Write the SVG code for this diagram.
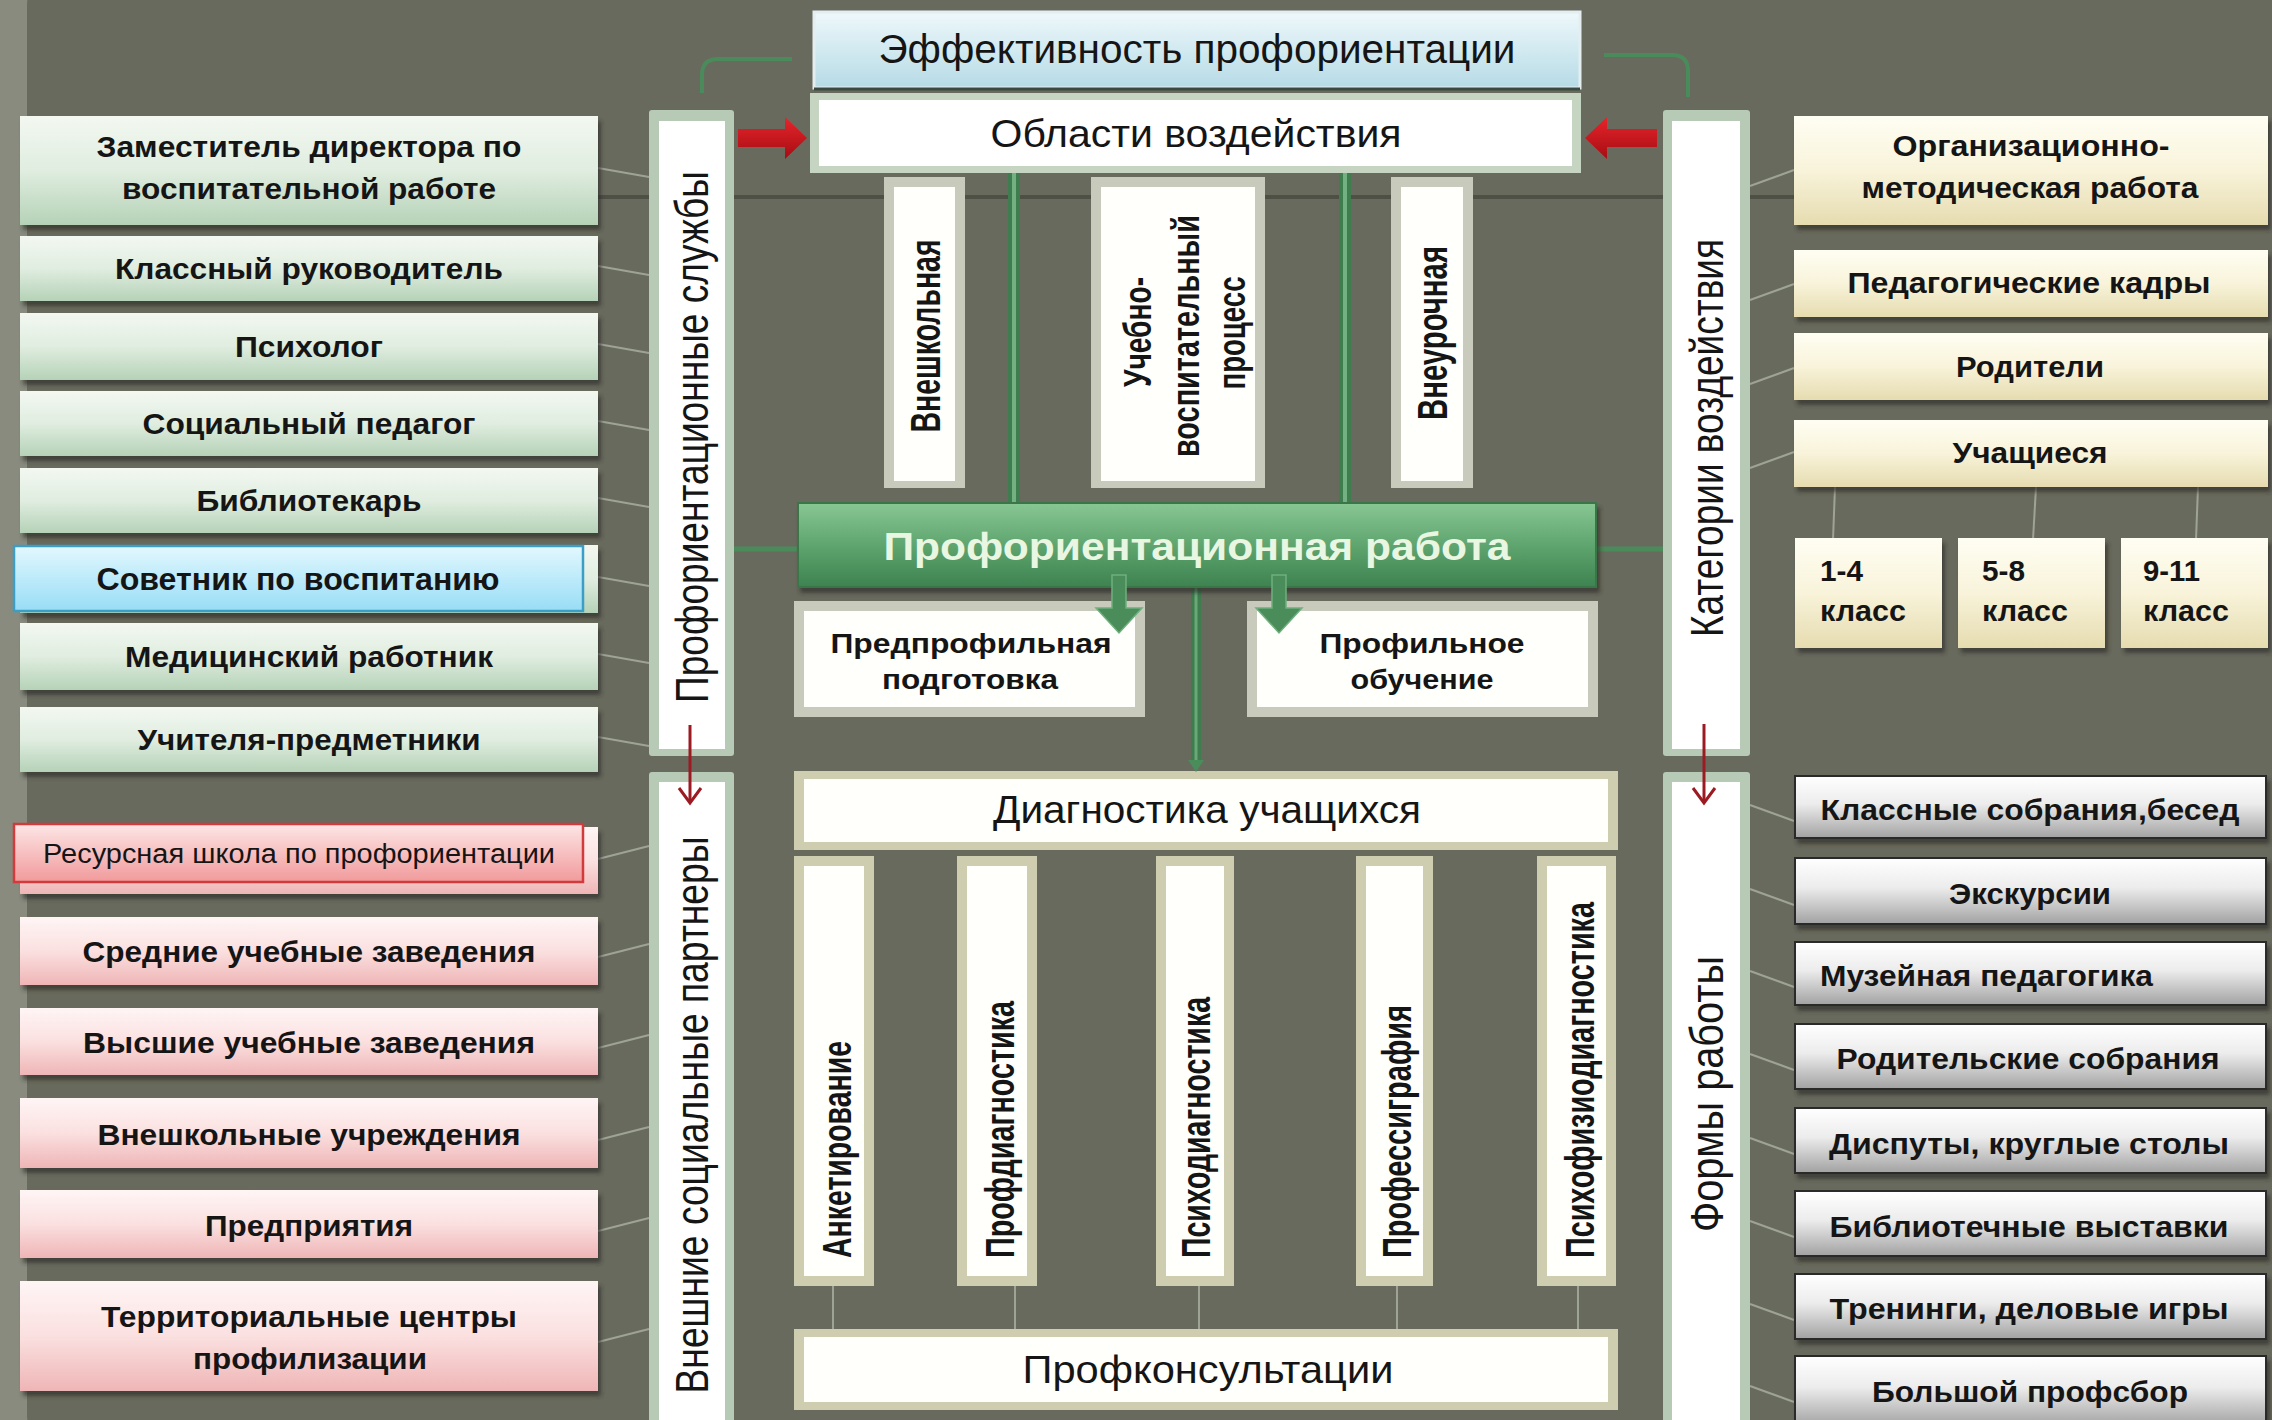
<svg xmlns="http://www.w3.org/2000/svg" width="2272" height="1420" viewBox="0 0 2272 1420">
<defs>
<linearGradient id="gGreen" x1="0" y1="0" x2="0" y2="1"><stop offset="0" stop-color="#f3f8f1"/><stop offset="0.5" stop-color="#e0ede0"/><stop offset="1" stop-color="#b5d2b7"/></linearGradient>
<linearGradient id="gPink" x1="0" y1="0" x2="0" y2="1"><stop offset="0" stop-color="#fff5f5"/><stop offset="0.5" stop-color="#fbe0e0"/><stop offset="1" stop-color="#efb5b6"/></linearGradient>
<linearGradient id="gCream" x1="0" y1="0" x2="0" y2="1"><stop offset="0" stop-color="#fffef3"/><stop offset="0.5" stop-color="#f8f3da"/><stop offset="1" stop-color="#e6dcb0"/></linearGradient>
<linearGradient id="gGray" x1="0" y1="0" x2="0" y2="1"><stop offset="0" stop-color="#ffffff"/><stop offset="0.45" stop-color="#ececec"/><stop offset="1" stop-color="#a2a2a2"/></linearGradient>
<linearGradient id="gTop" x1="0" y1="0" x2="0" y2="1"><stop offset="0" stop-color="#eef8fa"/><stop offset="1" stop-color="#b6dbe6"/></linearGradient>
<linearGradient id="gAdv" x1="0" y1="0" x2="0" y2="1"><stop offset="0" stop-color="#e2f8fe"/><stop offset="1" stop-color="#98ddf6"/></linearGradient>
<linearGradient id="gRes" x1="0" y1="0" x2="0" y2="1"><stop offset="0" stop-color="#fde6e6"/><stop offset="1" stop-color="#f19a9b"/></linearGradient>
<linearGradient id="gBar" x1="0" y1="0" x2="0" y2="1"><stop offset="0" stop-color="#88c794"/><stop offset="0.5" stop-color="#5fa56f"/><stop offset="1" stop-color="#3d8350"/></linearGradient>
<linearGradient id="gRed" x1="0" y1="0" x2="0" y2="1"><stop offset="0" stop-color="#e8242b"/><stop offset="1" stop-color="#a50d13"/></linearGradient>
<filter id="sh" x="-5%" y="-20%" width="110%" height="150%"><feDropShadow dx="3" dy="5" stdDeviation="2" flood-color="#2a2c24" flood-opacity="0.65"/></filter>
<style>
.b{font-family:"Liberation Sans",Arial,sans-serif;font-weight:bold;fill:#151515}
.r{font-family:"Liberation Sans",Arial,sans-serif;fill:#151515}
.green{fill:url(#gGreen);filter:url(#sh)}
.pink{fill:url(#gPink);filter:url(#sh)}
.cream{fill:url(#gCream);filter:url(#sh)}
.gray{fill:url(#gGray);stroke:#2c2c2c;stroke-width:2;filter:url(#sh)}
.barO{fill:#b7cab5}
.barI{fill:#ffffff}
.colO{fill:#c8cbbb}
.diagO{fill:#cecdaf}
.inW{fill:#fffffb}
.faint{stroke:#a7ad9f;stroke-width:2;fill:none;opacity:0.85}
.gl{stroke:#4b8a5a;fill:none}
.redl{stroke:#9c1b22;stroke-width:3;fill:none}
</style>
</defs>

<rect x="0" y="0" width="2272" height="1420" fill="#888b7e"/>
<rect x="27" y="-40" width="2320" height="1500" rx="46" fill="#696a5e"/>

<g id="connectors">
<line x1="598" y1="197" x2="1794" y2="197" stroke="#4e5046" stroke-width="4"/>
<line x1="733" y1="549" x2="1663" y2="549" stroke="#4b8a5a" stroke-width="5"/>
<line x1="1014" y1="171" x2="1014" y2="506" stroke="#3f7d4e" stroke-width="12"/>
<line x1="1014" y1="171" x2="1014" y2="506" stroke="#74b182" stroke-width="4"/>
<line x1="1345" y1="171" x2="1345" y2="506" stroke="#3f7d4e" stroke-width="12"/>
<line x1="1345" y1="171" x2="1345" y2="506" stroke="#74b182" stroke-width="4"/>
<path class="gl" stroke="#78a980" stroke-width="4" d="M792 59 H718 Q702 59 702 75 V93"/>
<path class="gl" stroke="#78a980" stroke-width="4" d="M1604 55 H1672 Q1688 55 1688 71 V97"/>
<g class="faint">
<line x1="598" y1="168" x2="649" y2="177"/>
<line x1="598" y1="266" x2="649" y2="275"/>
<line x1="598" y1="344" x2="649" y2="353"/>
<line x1="598" y1="421" x2="649" y2="430"/>
<line x1="598" y1="498" x2="649" y2="507"/>
<line x1="598" y1="577" x2="649" y2="586"/>
<line x1="598" y1="654" x2="649" y2="663"/>
<line x1="598" y1="737" x2="649" y2="746"/>
<line x1="598" y1="859" x2="649" y2="846"/>
<line x1="598" y1="957" x2="649" y2="944"/>
<line x1="598" y1="1048" x2="649" y2="1035"/>
<line x1="598" y1="1140" x2="649" y2="1127"/>
<line x1="598" y1="1231" x2="649" y2="1218"/>
<line x1="598" y1="1342" x2="649" y2="1329"/>
<line x1="1750" y1="186" x2="1794" y2="170"/>
<line x1="1750" y1="300" x2="1794" y2="284"/>
<line x1="1750" y1="384" x2="1794" y2="368"/>
<line x1="1750" y1="468" x2="1794" y2="452"/>
<line x1="1750" y1="805" x2="1794" y2="821"/>
<line x1="1750" y1="889" x2="1794" y2="905"/>
<line x1="1750" y1="971" x2="1794" y2="987"/>
<line x1="1750" y1="1054" x2="1794" y2="1070"/>
<line x1="1750" y1="1138" x2="1794" y2="1154"/>
<line x1="1750" y1="1221" x2="1794" y2="1237"/>
<line x1="1750" y1="1304" x2="1794" y2="1320"/>
<line x1="1750" y1="1386" x2="1794" y2="1402"/>
<line x1="1835" y1="487" x2="1833" y2="540"/>
<line x1="2036" y1="487" x2="2033" y2="540"/>
<line x1="2198" y1="487" x2="2196" y2="540"/>
<line x1="833" y1="1286" x2="833" y2="1330"/>
<line x1="1015" y1="1286" x2="1015" y2="1330"/>
<line x1="1199" y1="1286" x2="1199" y2="1330"/>
<line x1="1397" y1="1286" x2="1397" y2="1330"/>
<line x1="1578" y1="1286" x2="1578" y2="1330"/>
</g>
<line x1="1196" y1="587" x2="1196" y2="762" stroke="#3f7d4e" stroke-width="10"/>
<line x1="1196" y1="587" x2="1196" y2="762" stroke="#6aa878" stroke-width="3"/>
</g>

<!-- left column -->
<g id="n-zam"><rect class="green" x="20" y="116" width="578" height="109"/><text class="b" x="309" y="157" font-size="30" text-anchor="middle" textLength="425" lengthAdjust="spacingAndGlyphs">Заместитель директора по</text><text class="b" x="309" y="199" font-size="30" text-anchor="middle" textLength="374" lengthAdjust="spacingAndGlyphs">воспитательной работе</text></g>
<g id="n-klass"><rect class="green" x="20" y="236" width="578" height="65"/><text class="b" x="309" y="279" font-size="30" text-anchor="middle" textLength="388" lengthAdjust="spacingAndGlyphs">Классный руководитель</text></g>
<g id="n-psy"><rect class="green" x="20" y="313" width="578" height="67"/><text class="b" x="309" y="357" font-size="30" text-anchor="middle" textLength="148" lengthAdjust="spacingAndGlyphs">Психолог</text></g>
<g id="n-soc"><rect class="green" x="20" y="391" width="578" height="65"/><text class="b" x="309" y="434" font-size="30" text-anchor="middle" textLength="333" lengthAdjust="spacingAndGlyphs">Социальный педагог</text></g>
<g id="n-lib"><rect class="green" x="20" y="468" width="578" height="65"/><text class="b" x="309" y="511" font-size="30" text-anchor="middle" textLength="225" lengthAdjust="spacingAndGlyphs">Библиотекарь</text></g>
<g id="n-sov"><rect class="green" x="20" y="545" width="578" height="68"/><rect x="14" y="546" width="569" height="65" fill="url(#gAdv)" stroke="#3a9ec6" stroke-width="2.5"/><text class="b" x="298" y="590" font-size="32" text-anchor="middle" textLength="403" lengthAdjust="spacingAndGlyphs" fill="#000">Советник по воспитанию</text></g>
<g id="n-med"><rect class="green" x="20" y="623" width="578" height="67"/><text class="b" x="309" y="667" font-size="30" text-anchor="middle" textLength="368" lengthAdjust="spacingAndGlyphs">Медицинский работник</text></g>
<g id="n-uch"><rect class="green" x="20" y="707" width="578" height="65"/><text class="b" x="309" y="750" font-size="30" text-anchor="middle" textLength="343" lengthAdjust="spacingAndGlyphs">Учителя-предметники</text></g>
<g id="n-res"><rect class="pink" x="20" y="827" width="578" height="67"/><rect x="14" y="824" width="569" height="58" fill="url(#gRes)" stroke="#d23a3c" stroke-width="2.5"/><text class="r" x="299" y="863" font-size="27" text-anchor="middle" textLength="512" lengthAdjust="spacingAndGlyphs" fill="#000">Ресурсная школа по профориентации</text></g>
<g id="n-sred"><rect class="pink" x="20" y="917" width="578" height="68"/><text class="b" x="309" y="962" font-size="30" text-anchor="middle" textLength="453" lengthAdjust="spacingAndGlyphs">Средние учебные заведения</text></g>
<g id="n-vys"><rect class="pink" x="20" y="1008" width="578" height="67"/><text class="b" x="309" y="1053" font-size="30" text-anchor="middle" textLength="452" lengthAdjust="spacingAndGlyphs">Высшие учебные заведения</text></g>
<g id="n-vnesh"><rect class="pink" x="20" y="1098" width="578" height="70"/><text class="b" x="309" y="1145" font-size="30" text-anchor="middle" textLength="423" lengthAdjust="spacingAndGlyphs">Внешкольные учреждения</text></g>
<g id="n-pred"><rect class="pink" x="20" y="1190" width="578" height="68"/><text class="b" x="309" y="1236" font-size="30" text-anchor="middle" textLength="208" lengthAdjust="spacingAndGlyphs">Предприятия</text></g>
<g id="n-terr"><rect class="pink" x="20" y="1281" width="578" height="110"/><text class="b" x="309" y="1327" font-size="30" text-anchor="middle" textLength="416" lengthAdjust="spacingAndGlyphs">Территориальные центры</text><text class="b" x="310" y="1369" font-size="30" text-anchor="middle" textLength="234" lengthAdjust="spacingAndGlyphs">профилизации</text></g>

<!-- vertical bars -->
<g id="n-bar-services"><rect class="barO" x="649" y="110" width="85" height="646" rx="3"/><rect class="barI" x="659" y="121" width="66" height="628"/><text class="r" transform="translate(692 437) rotate(-90)" x="0" y="16" font-size="46" text-anchor="middle" textLength="532" lengthAdjust="spacingAndGlyphs">Профориентационные службы</text></g>
<g id="n-bar-partners"><rect class="barO" x="649" y="772" width="85" height="660" rx="3"/><rect class="barI" x="659" y="782" width="66" height="650"/><text class="r" transform="translate(692 1115) rotate(-90)" x="0" y="16" font-size="46" text-anchor="middle" textLength="557" lengthAdjust="spacingAndGlyphs">Внешние социальные партнеры</text></g>
<g id="n-bar-cat"><rect class="barO" x="1663" y="110" width="87" height="646" rx="3"/><rect class="barI" x="1672" y="121" width="68" height="628"/><text class="r" transform="translate(1707 438) rotate(-90)" x="0" y="16" font-size="46" text-anchor="middle" textLength="398" lengthAdjust="spacingAndGlyphs">Категории воздействия</text></g>
<g id="n-bar-forms"><rect class="barO" x="1663" y="772" width="87" height="660" rx="3"/><rect class="barI" x="1672" y="782" width="68" height="650"/><text class="r" transform="translate(1707 1094) rotate(-90)" x="0" y="16" font-size="46" text-anchor="middle" textLength="276" lengthAdjust="spacingAndGlyphs">Формы работы</text></g>

<!-- center top -->
<g id="n-eff"><rect x="814" y="12" width="766" height="76" fill="url(#gTop)" stroke="#e4eef0" stroke-width="3"/><line x1="814" y1="89" x2="1580" y2="89" stroke="#3b4a40" stroke-width="3"/><text class="r" x="1197" y="63" font-size="40" text-anchor="middle" textLength="637" lengthAdjust="spacingAndGlyphs">Эффективность профориентации</text></g>
<g id="n-obl"><rect x="810" y="93" width="771" height="80" fill="#c6d4c2"/><rect x="819" y="100" width="753" height="66" fill="#ffffff"/><text class="r" x="1196" y="147" font-size="39" text-anchor="middle" textLength="411" lengthAdjust="spacingAndGlyphs">Области воздействия</text></g>

<g id="n-vneshk"><rect class="colO" x="884" y="177" width="81" height="311"/><rect class="inW" x="894" y="187" width="61" height="294"/><text class="b" transform="translate(925 336) rotate(-90)" x="0" y="15" font-size="42" text-anchor="middle" textLength="193" lengthAdjust="spacingAndGlyphs">Внешкольная</text></g>
<g id="n-uvp"><rect class="colO" x="1091" y="177" width="174" height="311"/><rect class="inW" x="1101" y="187" width="154" height="294"/><text class="b" transform="translate(1137 332) rotate(-90)" x="0" y="14" font-size="38" text-anchor="middle" textLength="110" lengthAdjust="spacingAndGlyphs">Учебно-</text><text class="b" transform="translate(1185 336) rotate(-90)" x="0" y="14" font-size="38" text-anchor="middle" textLength="242" lengthAdjust="spacingAndGlyphs">воспитательный</text><text class="b" transform="translate(1231 333) rotate(-90)" x="0" y="14" font-size="38" text-anchor="middle" textLength="113" lengthAdjust="spacingAndGlyphs">процесс</text></g>
<g id="n-vneur"><rect class="colO" x="1391" y="177" width="82" height="311"/><rect class="inW" x="1401" y="187" width="62" height="294"/><text class="b" transform="translate(1432 333) rotate(-90)" x="0" y="15" font-size="42" text-anchor="middle" textLength="174" lengthAdjust="spacingAndGlyphs">Внеурочная</text></g>

<g id="n-prof"><rect x="798" y="503" width="798" height="84" fill="url(#gBar)" stroke="#3a7648" stroke-width="2" filter="url(#sh)"/><text class="b" x="1197" y="560" font-size="38" text-anchor="middle" textLength="627" lengthAdjust="spacingAndGlyphs" style="fill:#e8f6e2">Профориентационная работа</text></g>

<g id="n-predprof"><rect class="colO" x="794" y="601" width="351" height="116"/><rect class="inW" x="804" y="611" width="331" height="96"/><text class="b" x="971" y="653" font-size="27" text-anchor="middle" textLength="281" lengthAdjust="spacingAndGlyphs">Предпрофильная</text><text class="b" x="970" y="689" font-size="27" text-anchor="middle" textLength="176" lengthAdjust="spacingAndGlyphs">подготовка</text></g>
<g id="n-profob"><rect class="colO" x="1247" y="601" width="351" height="116"/><rect class="inW" x="1257" y="611" width="331" height="96"/><text class="b" x="1422" y="653" font-size="27" text-anchor="middle" textLength="205" lengthAdjust="spacingAndGlyphs">Профильное</text><text class="b" x="1422" y="689" font-size="27" text-anchor="middle" textLength="143" lengthAdjust="spacingAndGlyphs">обучение</text></g>

<g id="n-diag"><rect class="diagO" x="794" y="771" width="824" height="79"/><rect class="inW" x="804" y="779" width="804" height="63"/><text class="r" x="1207" y="823" font-size="38" text-anchor="middle" textLength="428" lengthAdjust="spacingAndGlyphs">Диагностика учащихся</text></g>
<g id="n-anket"><rect class="diagO" x="794" y="856" width="80" height="430"/><rect class="inW" x="804" y="866" width="60" height="410"/><text class="b" transform="translate(837 1258) rotate(-90)" x="0" y="14" font-size="40" textLength="217" lengthAdjust="spacingAndGlyphs">Анкетирование</text></g>
<g id="n-profd"><rect class="diagO" x="957" y="856" width="80" height="430"/><rect class="inW" x="967" y="866" width="60" height="410"/><text class="b" transform="translate(1000 1258) rotate(-90)" x="0" y="14" font-size="40" textLength="257" lengthAdjust="spacingAndGlyphs">Профдиагностика</text></g>
<g id="n-psyd"><rect class="diagO" x="1156" y="856" width="78" height="430"/><rect class="inW" x="1166" y="866" width="58" height="410"/><text class="b" transform="translate(1196 1258) rotate(-90)" x="0" y="14" font-size="40" textLength="261" lengthAdjust="spacingAndGlyphs">Психодиагностика</text></g>
<g id="n-profgr"><rect class="diagO" x="1356" y="856" width="77" height="430"/><rect class="inW" x="1366" y="866" width="57" height="410"/><text class="b" transform="translate(1397 1258) rotate(-90)" x="0" y="14" font-size="40" textLength="253" lengthAdjust="spacingAndGlyphs">Профессиграфия</text></g>
<g id="n-psyfiz"><rect class="diagO" x="1537" y="856" width="79" height="430"/><rect class="inW" x="1547" y="866" width="59" height="410"/><text class="b" transform="translate(1580 1258) rotate(-90)" x="0" y="14" font-size="40" textLength="356" lengthAdjust="spacingAndGlyphs">Психофизиодиагностика</text></g>
<g id="n-konsult"><rect class="diagO" x="794" y="1329" width="824" height="81"/><rect class="inW" x="804" y="1337" width="804" height="65"/><text class="r" x="1208" y="1383" font-size="39" text-anchor="middle" textLength="371" lengthAdjust="spacingAndGlyphs">Профконсультации</text></g>

<!-- right column -->
<g id="n-org"><rect class="cream" x="1794" y="116" width="474" height="109"/><text class="b" x="2031" y="156" font-size="29" text-anchor="middle" textLength="277" lengthAdjust="spacingAndGlyphs">Организационно-</text><text class="b" x="2030" y="198" font-size="29" text-anchor="middle" textLength="337" lengthAdjust="spacingAndGlyphs">методическая работа</text></g>
<g id="n-kadry"><rect class="cream" x="1794" y="250" width="474" height="67"/><text class="b" x="2029" y="293" font-size="29" text-anchor="middle" textLength="363" lengthAdjust="spacingAndGlyphs">Педагогические кадры</text></g>
<g id="n-rod"><rect class="cream" x="1794" y="333" width="474" height="67"/><text class="b" x="2030" y="377" font-size="29" text-anchor="middle" textLength="148" lengthAdjust="spacingAndGlyphs">Родители</text></g>
<g id="n-uchash"><rect class="cream" x="1794" y="420" width="474" height="67"/><text class="b" x="2030" y="463" font-size="29" text-anchor="middle" textLength="155" lengthAdjust="spacingAndGlyphs">Учащиеся</text></g>
<g id="n-k14"><rect class="cream" x="1795" y="538" width="147" height="110"/><text class="b" x="1820" y="581" font-size="29" textLength="43" lengthAdjust="spacingAndGlyphs">1-4</text><text class="b" x="1820" y="621" font-size="29" textLength="86" lengthAdjust="spacingAndGlyphs">класс</text></g>
<g id="n-k58"><rect class="cream" x="1958" y="538" width="147" height="110"/><text class="b" x="1982" y="581" font-size="29" textLength="43" lengthAdjust="spacingAndGlyphs">5-8</text><text class="b" x="1982" y="621" font-size="29" textLength="86" lengthAdjust="spacingAndGlyphs">класс</text></g>
<g id="n-k911"><rect class="cream" x="2121" y="538" width="147" height="110"/><text class="b" x="2143" y="581" font-size="29" textLength="57" lengthAdjust="spacingAndGlyphs">9-11</text><text class="b" x="2143" y="621" font-size="29" textLength="86" lengthAdjust="spacingAndGlyphs">класс</text></g>

<g id="n-ksob"><rect class="gray" x="1795" y="776" width="471" height="62"/><text class="b" x="2030" y="820" font-size="30" text-anchor="middle" textLength="419" lengthAdjust="spacingAndGlyphs">Классные собрания,бесед</text></g>
<g id="n-eks"><rect class="gray" x="1795" y="858" width="471" height="66"/><text class="b" x="2030" y="904" font-size="30" text-anchor="middle" textLength="162" lengthAdjust="spacingAndGlyphs">Экскурсии</text></g>
<g id="n-muz"><rect class="gray" x="1795" y="942" width="471" height="63"/><text class="b" x="1820" y="986" font-size="30" textLength="333" lengthAdjust="spacingAndGlyphs">Музейная педагогика</text></g>
<g id="n-rsob"><rect class="gray" x="1795" y="1024" width="471" height="65"/><text class="b" x="2028" y="1069" font-size="30" text-anchor="middle" textLength="383" lengthAdjust="spacingAndGlyphs">Родительские собрания</text></g>
<g id="n-disp"><rect class="gray" x="1795" y="1108" width="471" height="65"/><text class="b" x="2029" y="1154" font-size="30" text-anchor="middle" textLength="400" lengthAdjust="spacingAndGlyphs">Диспуты, круглые столы</text></g>
<g id="n-bvyst"><rect class="gray" x="1795" y="1191" width="471" height="65"/><text class="b" x="2029" y="1237" font-size="30" text-anchor="middle" textLength="399" lengthAdjust="spacingAndGlyphs">Библиотечные выставки</text></g>
<g id="n-tren"><rect class="gray" x="1795" y="1274" width="471" height="65"/><text class="b" x="2029" y="1319" font-size="30" text-anchor="middle" textLength="399" lengthAdjust="spacingAndGlyphs">Тренинги, деловые игры</text></g>
<g id="n-bps"><rect class="gray" x="1795" y="1356" width="471" height="70"/><text class="b" x="2030" y="1402" font-size="30" text-anchor="middle" textLength="316" lengthAdjust="spacingAndGlyphs">Большой профсбор</text></g>

<g id="arrows">
<path d="M738 129 H785 V117 L807 138 L785 159 V147 H738 Z" fill="url(#gRed)"/>
<path d="M1657 129 H1607 V117 L1585 138 L1607 159 V147 H1657 Z" fill="url(#gRed)"/>
<line class="redl" x1="690" y1="725" x2="690" y2="802"/>
<path class="redl" d="M679 788 L690 803 L701 788"/>
<line class="redl" x1="1704" y1="724" x2="1704" y2="802"/>
<path class="redl" d="M1693 788 L1704 803 L1715 788"/>
<path d="M1112 575 H1126 V608 H1142 L1119 633 L1096 608 H1112 Z" fill="#4a8c5a" stroke="#6fb07e" stroke-width="1.5"/>
<path d="M1272 575 H1286 V608 H1302 L1279 633 L1256 608 H1272 Z" fill="#4a8c5a" stroke="#6fb07e" stroke-width="1.5"/>
<path d="M1188 760 H1204 L1196 772 Z" fill="#4a8c5a"/>
</g>
</svg>
